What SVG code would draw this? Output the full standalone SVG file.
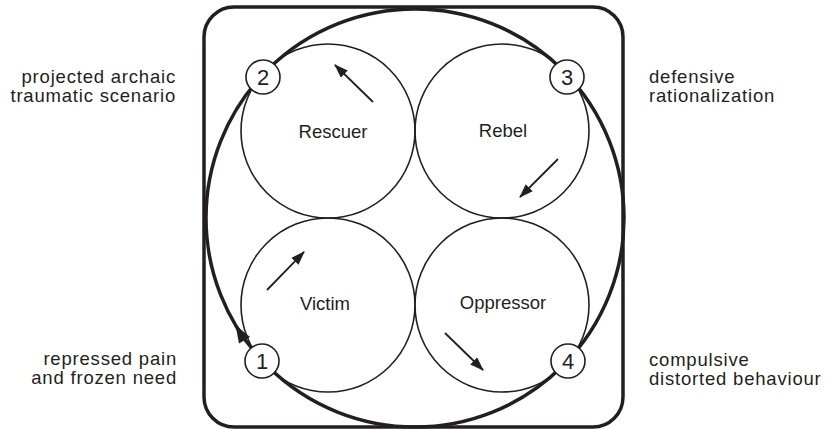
<svg xmlns="http://www.w3.org/2000/svg" width="834" height="430" viewBox="0 0 834 430">
<style>
  .frame{fill:none;stroke:#231f20;stroke-width:3.5}
  .cyc{fill:none;stroke:#231f20;stroke-width:3.5}
  .role{fill:none;stroke:#231f20;stroke-width:1.6}
  .num{fill:#fff;stroke:#231f20;stroke-width:1.6}
  .arr{stroke:#231f20;stroke-width:1.8;fill:none;marker-end:url(#ah)}
  text{font-family:"Liberation Sans",Arial,sans-serif;fill:#231f20}
  .lbl{font-size:18.5px;text-anchor:middle}
  .side{font-size:18.5px;letter-spacing:0.8px}
  .n{font-size:22px;text-anchor:middle}
</style>
<defs>
  <marker id="ah" markerWidth="14" markerHeight="10" refX="13" refY="5" orient="auto" markerUnits="userSpaceOnUse">
    <path d="M0,0 L14,5 L0,10 Z" fill="#231f20"/>
  </marker>
</defs>
<rect class="frame" x="204" y="7" width="419" height="420" rx="30" ry="30"/>
<g id="connectors">
  <circle class="cyc" cx="415" cy="218" r="209"/>
  <path d="M235.5,325 L250,337 L239,343.5 Z" fill="#231f20"/>
  <line class="arr" x1="373" y1="102" x2="335" y2="65"/>
  <line class="arr" x1="558" y1="159" x2="520" y2="197"/>
  <line class="arr" x1="267" y1="290" x2="304" y2="252"/>
  <line class="arr" x1="445" y1="333" x2="483" y2="370"/>
</g>
<g id="rescuer"><circle class="role" cx="328" cy="131" r="87"/><text class="lbl" x="333" y="138">Rescuer</text></g>
<g id="rebel"><circle class="role" cx="502" cy="131" r="87"/><text class="lbl" x="503" y="137">Rebel</text></g>
<g id="victim"><circle class="role" cx="328" cy="305" r="87"/><text class="lbl" x="325" y="310">Victim</text></g>
<g id="oppressor"><circle class="role" cx="502" cy="305" r="87"/><text class="lbl" x="503" y="309">Oppressor</text></g>
<g id="n2"><circle class="num" cx="263" cy="77" r="17"/><text class="n" x="263" y="85">2</text></g>
<g id="n3"><circle class="num" cx="567" cy="77" r="17"/><text class="n" x="567" y="85">3</text></g>
<g id="n1"><circle class="num" cx="262" cy="361" r="17"/><text class="n" x="262" y="369">1</text></g>
<g id="n4"><circle class="num" cx="568" cy="361" r="17"/><text class="n" x="568" y="369">4</text></g>
<g id="label2"><text class="side" x="176" y="83" text-anchor="end">projected archaic</text><text class="side" x="176" y="102" text-anchor="end">traumatic scenario</text></g>
<g id="label3"><text class="side" x="649" y="83">defensive</text><text class="side" x="649" y="102">rationalization</text></g>
<g id="label1"><text class="side" x="177" y="365" text-anchor="end">repressed pain</text><text class="side" x="177" y="384" text-anchor="end">and frozen need</text></g>
<g id="label4"><text class="side" x="649" y="366">compulsive</text><text class="side" x="649" y="385">distorted behaviour</text></g>
</svg>
